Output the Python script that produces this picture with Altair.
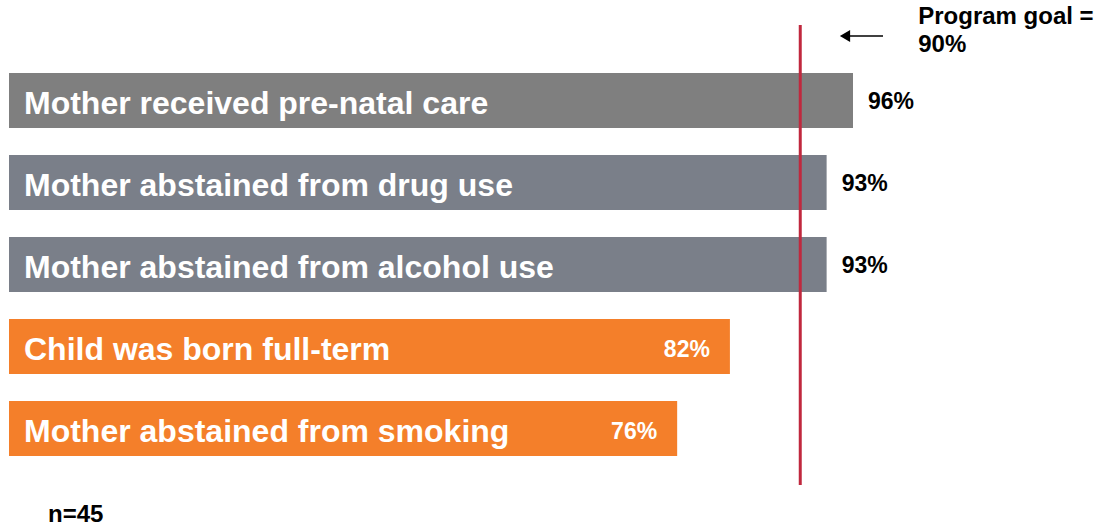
import altair as alt
import pandas as pd

categories = [
    "Mother received pre-natal care",
    "Mother abstained from drug use",
    "Mother abstained from alcohol use",
    "Child was born full-term",
    "Mother abstained from smoking",
]
values = [96, 93, 93, 82, 76]
value_labels = ["96%", "93%", "93%", "82%", "76%"]
groups = ["top", "mid", "mid", "low", "low"]
goal = 90
goal_line1 = "Program goal ="
goal_line2 = "90%"
n_text = "n=45"

df = pd.DataFrame({
    "cat": categories,
    "val": values,
    "lab": value_labels,
    "grp": groups,
    "inside": [bool(v < goal) for v in values],
})
goal_df = pd.DataFrame({"goal": [goal], "t1": [goal_line1], "t2": [goal_line2], "n": [n_text]})

FONT = "Liberation Sans"

x_scale = alt.Scale(domain=[0, 120], nice=False, zero=False)
y_enc = alt.Y("cat:N", sort=None, axis=None,
              scale=alt.Scale(range=[73, 456], paddingInner=27 / 82, paddingOuter=0))
x_ax = alt.X("val:Q", scale=x_scale, axis=None)

base = alt.Chart(df)

bars = base.mark_bar(size=55).encode(
    x=x_ax,
    y=y_enc,
    color=alt.Color("grp:N", legend=None,
                    scale=alt.Scale(domain=["top", "mid", "low"],
                                    range=["#7f7f7f", "#7a7f89", "#f47f2a"])),
)

cat_text = base.mark_text(align="left", baseline="middle", dy=3,
                          font=FONT, fontSize=32, fontWeight="bold",
                          color="white").encode(
    x=alt.value(15),
    y=y_enc,
    text="cat:N",
)

val_out = base.transform_filter("!datum.inside").mark_text(
    align="left", baseline="middle", dx=15, dy=1, font=FONT, fontSize=23,
    fontWeight="bold", color="black").encode(x=x_ax, y=y_enc, text="lab:N")

val_in = base.transform_filter("datum.inside").mark_text(
    align="right", baseline="middle", dx=-20, dy=3, font=FONT, fontSize=23,
    fontWeight="bold", color="white").encode(x=x_ax, y=y_enc, text="lab:N")

gbase = alt.Chart(goal_df)
gx = alt.X("goal:Q", scale=x_scale, axis=None)
goal_rule = gbase.mark_rule(color="#c0283e", strokeWidth=3).encode(
    x=gx, y=alt.value(25), y2=alt.value(485),
)
goal_lab1 = gbase.mark_text(align="left", baseline="middle", dx=118, font=FONT,
                            fontSize=24, fontWeight="bold", color="black").encode(
    x=gx, y=alt.value(17), text="t1:N",
)
goal_lab2 = gbase.mark_text(align="left", baseline="middle", dx=118, font=FONT,
                            fontSize=24, fontWeight="bold", color="black").encode(
    x=gx, y=alt.value(45), text="t2:N",
)
arrow_line = gbase.mark_rule(color="black", strokeWidth=1.5).encode(
    x=alt.value(836), x2=alt.value(874), y=alt.value(36),
)
arrow_head = gbase.mark_point(shape="triangle-left", filled=True, color="black",
                              size=140, opacity=1).encode(
    x=alt.value(836), y=alt.value(36),
)
n_lab = gbase.mark_text(align="left", baseline="middle", font=FONT, fontSize=24,
                        fontWeight="bold", color="black").encode(
    x=alt.value(39), y=alt.value(515), text="n:N",
)

chart = alt.layer(bars, cat_text, val_out, val_in, goal_rule, goal_lab1, goal_lab2,
                  arrow_line, arrow_head, n_lab).properties(
    width=1055, height=527,
    autosize=alt.AutoSizeParams(type="none"),
    padding={"left": 9, "top": 0, "right": 35, "bottom": 0},
).configure(background="white").configure_view(stroke=None)

chart.save("out.html", embed_options={"renderer": "svg", "actions": False})
